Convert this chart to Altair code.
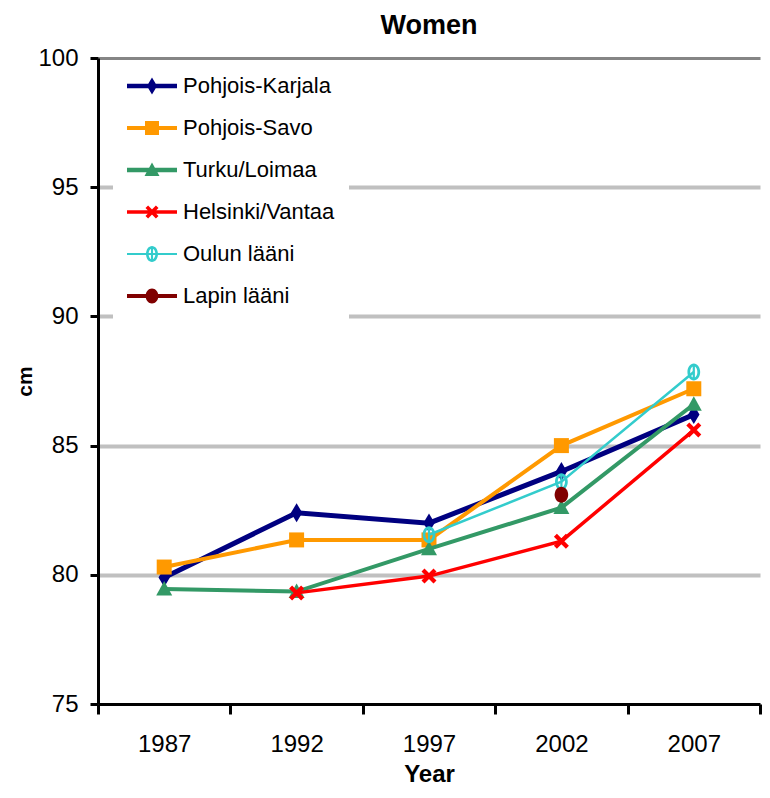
import altair as alt
import pandas as pd

years = ["1987", "1992", "1997", "2002", "2007"]
regions = ["Pohjois-Karjala", "Pohjois-Savo", "Turku/Loimaa",
           "Helsinki/Vantaa", "Oulun lääni", "Lapin lääni"]
pohjois_karjala = [79.9, 82.4, 82.0, 84.0, 86.2]
pohjois_savo = [80.3, 81.35, 81.35, 85.0, 87.2]
turku_loimaa = [79.45, 79.35, 81.0, 82.6, 86.6]
helsinki_vantaa = [None, 79.3, 79.95, 81.3, 85.6]
oulun_laani = [None, None, 81.55, 83.6, 87.85]
lapin_laani = [None, None, None, 83.1, None]
series = [pohjois_karjala, pohjois_savo, turku_loimaa,
          helsinki_vantaa, oulun_laani, lapin_laani]

# styles
colors = ["#000080", "#FF9900", "#339966", "#FF0000", "#33CCCC", "#800000"]
line_widths = [5, 4, 4, 3.5, 2.5, 4]
marker_px = [19, 15, 16, 15, 17, 16]             # marker height on plot
legend_marker_half = [8.5, 7, 7.5, 6.5, 8, 7.5]  # px in legend
legend_line_half = [2.2, 2, 2.3, 1.8, 1.1, 2.1]  # px in legend

rows = []
for r, vals in zip(regions, series):
    for yr, v in zip(years, vals):
        if v is not None:
            rows.append({"Region": r, "Year": yr, "Value": v})
df = pd.DataFrame(rows)


def poly(pts, s, dx=0.0):
    return "M" + "L".join(f"{x*s+dx:.4f},{y*s:.4f}" for x, y in pts) + "Z"


def ell(rx, ry, s, cw=True, dx=0.0):
    f = 1 if cw else 0
    a, b = rx * s, ry * s
    return (f"M{a+dx:.4f},0A{a:.4f},{b:.4f} 0 1,{f} {-a+dx:.4f},0"
            f"A{a:.4f},{b:.4f} 0 1,{f} {a+dx:.4f},0Z")


def marker(kind, s, dx=0.0):
    if kind == 0:
        return poly([(0, -1), (0.6, 0), (0, 1), (-0.6, 0)], s, dx)
    if kind == 1:
        return poly([(-1, -1), (1, -1), (1, 1), (-1, 1)], s, dx)
    if kind == 2:
        return poly([(0, -1), (1, 0.8), (-1, 0.8)], s, dx)
    if kind == 3:
        return (poly([(-0.6, -1.0), (1.0, 0.6), (0.6, 1.0), (-1.0, -0.6)], s, dx) +
                poly([(-1.0, 0.6), (0.6, -1.0), (1.0, -0.6), (-0.6, 1.0)], s, dx))
    if kind == 4:
        return (ell(0.75, 1, s, True, dx) + ell(0.42, 0.68, s, False, dx) +
                poly([(-0.13, -0.7), (0.13, -0.7), (0.13, 0.7), (-0.13, 0.7)], s, dx))
    return ell(0.85, 1, s, True, dx)


# legend symbol: a short box (24 px) whose path reaches 50 px to the right
LEG_PX = 24
LEG_SIZE = LEG_PX ** 2
unit = LEG_PX / 2
line_left, line_right, marker_x = -12, 38, 13   # px from symbol centre
legend_paths = []
for i in range(6):
    t = legend_line_half[i] / unit
    line = poly([(line_left / unit, -t), (line_right / unit, -t),
                 (line_right / unit, t), (line_left / unit, t)], 1)
    legend_paths.append(line + marker(i, legend_marker_half[i] / unit,
                                      marker_x / unit))

FONT = "Liberation Sans"

x_enc = alt.X("Year:N", sort=years,
              scale=alt.Scale(type="band", paddingInner=0, paddingOuter=0),
              axis=alt.Axis(title="Year", labelAngle=0, tickBand="extent",
                            tickSize=10, tickWidth=3, tickColor="black",
                            domainColor="black", domainWidth=3,
                            labelFont=FONT, labelFontSize=24, labelColor="black",
                            labelPadding=18, titleFont=FONT, titleFontSize=24,
                            titleFontWeight="bold", titleColor="black",
                            titlePadding=6, grid=False))
y_enc = alt.Y("Value:Q",
              scale=alt.Scale(domain=[75, 100], nice=False, zero=False),
              axis=alt.Axis(title="cm", values=[75, 80, 85, 90, 95, 100],
                            tickSize=8, tickWidth=3, tickColor="black",
                            domainColor="black", domainWidth=3,
                            labelFont=FONT, labelFontSize=24, labelColor="black",
                            labelPadding=12, titleFont=FONT, titleFontSize=21,
                            titleFontWeight="bold", titleColor="black",
                            titlePadding=2, grid=True,
                            gridColor={"condition": {"test": "datum.value === 100", "value": "#858585"}, "value": "#c0c0c0"},
                            gridWidth={"condition": {"test": "datum.value === 100", "value": 3}, "value": 4},
                            gridOpacity={"condition": {"test": "datum.value === 75", "value": 0}, "value": 1}))

base = alt.Chart(df)

layers = []
for i, r in enumerate(regions):
    sub = base.transform_filter(alt.datum.Region == r)
    layers.append(
        sub.mark_line(color=colors[i], strokeWidth=line_widths[i])
        .encode(x=x_enc, y=y_enc, order=alt.Order("Year:N"))
    )
    layers.append(
        sub.mark_point(filled=True, opacity=1, shape=marker(i, 1),
                       size=marker_px[i] ** 2, color=colors[i])
        .encode(x=x_enc, y=y_enc)
    )

leg = alt.Legend(title=None, orient="none", legendX=15, legendY=2,
                 fillColor="white", padding=14, labelFont=FONT,
                 labelFontSize=22, labelColor="black", labelOffset=32,
                 labelLimit=400, rowPadding=19, symbolSize=LEG_SIZE,
                 symbolStrokeWidth=0, symbolOpacity=1, direction="vertical")

# invisible layer that only carries the legend (line + marker symbols)
legend_layer = base.mark_point(filled=True, size=LEG_SIZE, fillOpacity=0,
                               strokeOpacity=0).encode(
    x=x_enc, y=y_enc,
    color=alt.Color("Region:N", scale=alt.Scale(domain=regions, range=colors),
                    legend=leg),
    shape=alt.Shape("Region:N", scale=alt.Scale(domain=regions, range=legend_paths),
                    legend=leg),
)
layers.append(legend_layer)

chart = alt.layer(*layers).properties(
    width=754, height=778,
    autosize=alt.AutoSizeParams(type="fit", contains="padding"),
    title=alt.TitleParams("Women", font=FONT, fontSize=27, fontWeight="bold",
                          color="black", anchor="middle", offset=6),
    padding={"left": 6, "top": 4, "right": 0, "bottom": 0},
    background="white",
).configure_view(stroke=None)

chart.save("out.html", embed_options={"renderer": "svg", "actions": False})
